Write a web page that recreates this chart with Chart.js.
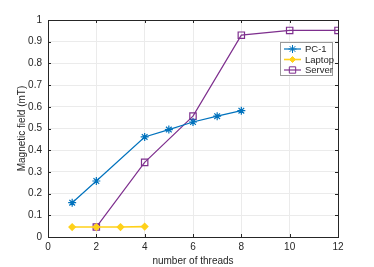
<!DOCTYPE html>
<html>
<head>
<meta charset="utf-8">
<script src="https://cdn.jsdelivr.net/npm/chart.js@4"></script>
<style>
  html, body { margin: 0; padding: 0; background: #fff; }
  #wrap { width: 374px; height: 267px; }
</style>
</head>
<body>
<div id="wrap"><canvas id="c" width="374" height="267"></canvas></div>
<script>
// --- Data ---
const pcThreads = [1, 2, 4, 5, 6, 7, 8];
const pcField = [0.158, 0.258, 0.461, 0.495, 0.530, 0.557, 0.582];
const laptopThreads = [1, 2, 3, 4];
const laptopField = [0.046, 0.046, 0.046, 0.048];
const serverThreads = [2, 4, 6, 8, 10, 12];
const serverField = [0.046, 0.344, 0.557, 0.930, 0.952, 0.952];
const xTicks = [0, 2, 4, 6, 8, 10, 12];
const yTicks = [0, 0.1, 0.2, 0.3, 0.4, 0.5, 0.6, 0.7, 0.8, 0.9, 1];

const FONT = '"Liberation Sans", Arial, sans-serif';
const AXIS = '#262626';

const toPoints = (xs, ys) => xs.map((x, i) => ({ x: x, y: ys[i] }));

// box around plot with inward ticks (matlab style)
const boxPlugin = {
    id: 'box',
    afterDraw(chart) {
        const { ctx, chartArea: a, scales } = chart;
        ctx.save();
        ctx.strokeStyle = AXIS;
        ctx.lineWidth = 1;
        ctx.strokeRect(Math.round(a.left) + 0.5, Math.round(a.top) + 0.5,
            Math.round(a.right - a.left), Math.round(a.bottom - a.top));
        ctx.beginPath();
        xTicks.forEach(t => {
            const px = Math.round(scales.x.getPixelForValue(t)) + 0.5;
            ctx.moveTo(px, a.bottom); ctx.lineTo(px, a.bottom - 3);
            ctx.moveTo(px, a.top); ctx.lineTo(px, a.top + 3);
        });
        yTicks.forEach(t => {
            const py = Math.round(scales.y.getPixelForValue(t)) + 0.5;
            ctx.moveTo(a.left, py); ctx.lineTo(a.left + 3, py);
            ctx.moveTo(a.right, py); ctx.lineTo(a.right - 3, py);
        });
        ctx.stroke();
        ctx.restore();
    }
};

// legend drawn inside the plot, top right
const insideLegend = {
    id: 'insideLegend',
    afterDraw(chart) {
        const ctx = chart.ctx;
        const x0 = 280, y0 = 42, w = 52, h = 33;
        ctx.save();
        ctx.fillStyle = '#fff';
        ctx.fillRect(x0, y0, w, h);
        ctx.strokeStyle = '#9a9a9a';
        ctx.lineWidth = 1;
        ctx.strokeRect(x0 + 0.5, y0 + 0.5, w, h);
        chart.data.datasets.forEach((ds, i) => {
            const y = y0 + 7 + i * 10.5;
            ctx.strokeStyle = ds.borderColor;
            ctx.lineWidth = ds.borderWidth;
            ctx.beginPath();
            ctx.moveTo(x0 + 4, y); ctx.lineTo(x0 + 21, y);
            ctx.stroke();
            ctx.strokeStyle = ds.pointBorderColor;
            ctx.fillStyle = ds.pointBackgroundColor;
            ctx.lineWidth = 1;
            Chart.helpers.drawPoint(ctx, {
                pointStyle: ds.pointStyle, rotation: 0,
                radius: ds.pointRadius, borderWidth: 1
            }, x0 + 12.5, y);
            ctx.fillStyle = AXIS;
            ctx.font = '9.5px ' + FONT;
            ctx.textBaseline = 'middle';
            ctx.fillText(ds.label, x0 + 25, y + 0.5);
        });
        ctx.restore();
    }
};

new Chart(document.getElementById('c'), {
    type: 'line',
    data: {
        datasets: [
            {
                label: 'PC-1',
                data: toPoints(pcThreads, pcField),
                borderColor: '#0072BD',
                backgroundColor: '#0072BD',
                pointBorderColor: '#0072BD',
                pointBackgroundColor: '#0072BD',
                pointStyle: 'star',
                pointRadius: 4,
                borderWidth: 1.2
            },
            {
                label: 'Laptop',
                data: toPoints(laptopThreads, laptopField),
                borderColor: '#FFD11A',
                backgroundColor: '#FFD11A',
                pointBorderColor: '#FFD11A',
                pointBackgroundColor: '#FFD11A',
                pointStyle: 'rectRot',
                pointRadius: 3,
                borderWidth: 1.6
            },
            {
                label: 'Server',
                data: toPoints(serverThreads, serverField),
                borderColor: '#7E2F8E',
                backgroundColor: '#7E2F8E',
                pointBorderColor: '#7E2F8E',
                pointBackgroundColor: 'rgba(0,0,0,0)',
                pointStyle: 'rect',
                pointRadius: 4.5,
                borderWidth: 1.2
            }
        ]
    },
    options: {
        responsive: false,
        animation: false,
        layout: { padding: { left: 0, top: 20, right: 36, bottom: 0 } },
        plugins: {
            legend: { display: false },
            tooltip: { enabled: false }
        },
        scales: {
            x: {
                type: 'linear',
                min: 0, max: 12,
                afterBuildTicks: s => { s.ticks = xTicks.map(v => ({ value: v })); },
                afterFit: s => { s.height = 30; },
                grid: { color: '#ebebeb', tickLength: 0, drawTicks: false },
                border: { display: false },
                ticks: { color: AXIS, font: { family: FONT, size: 10 }, padding: 4, maxRotation: 0 },
                title: { display: true, text: 'number of threads', color: AXIS,
                    font: { family: FONT, size: 10 }, padding: { top: 0, bottom: 0 } }
            },
            y: {
                min: 0, max: 1,
                afterBuildTicks: s => { s.ticks = yTicks.map(v => ({ value: v })); },
                afterFit: s => { s.width = 48; },
                grid: { color: '#ebebeb', tickLength: 0, drawTicks: false },
                border: { display: false },
                ticks: { color: AXIS, font: { family: FONT, size: 10 }, padding: 6,
                    callback: v => String(Math.round(v * 10) / 10) },
                title: { display: true, text: 'Magnetic field (mT)', color: AXIS,
                    font: { family: FONT, size: 10 }, padding: { top: 16, bottom: 0 } }
            }
        }
    },
    plugins: [boxPlugin, insideLegend]
});
</script>
</body>
</html>
